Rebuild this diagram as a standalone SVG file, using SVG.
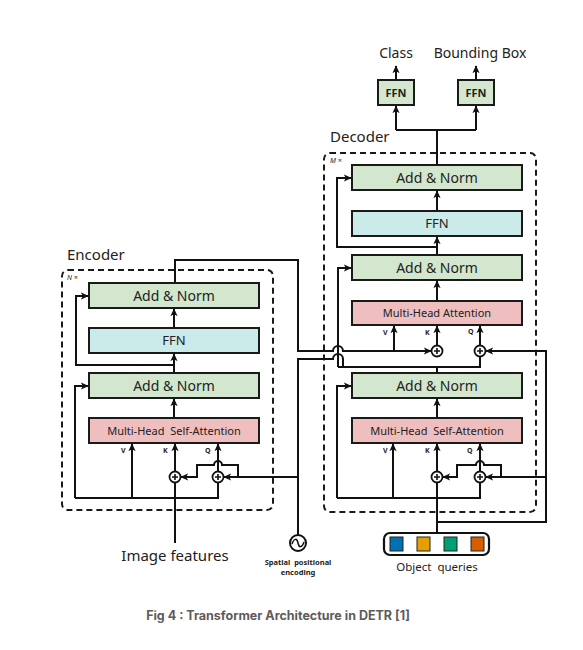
<svg xmlns="http://www.w3.org/2000/svg" width="583" height="650" viewBox="0 0 583 650">
<defs>
<marker id="ah" viewBox="0 0 10 10" refX="9" refY="5" markerWidth="8" markerHeight="8" orient="auto" markerUnits="userSpaceOnUse">
<path d="M0,0.5 L10,5 L0,9.5 L2.5,5 z" fill="#111"/>
</marker>
<style>
.bg{fill:#fff}
.box{stroke:#1a1a1a;stroke-width:2}
.an{fill:#d2e7cd}
.ffn{fill:#cbeaea}
.att{fill:#efbfbf}
.dash{fill:none;stroke:#1a1a1a;stroke-width:2;stroke-dasharray:6 4}
.ln{fill:none;stroke:#111;stroke-width:2}
.ar{marker-end:url(#ah)}
.plus{fill:#fff;stroke:#111;stroke-width:1.8}
.pl{stroke:#111;stroke-width:1.6}
text{font-family:"Noto Sans","Open Sans",sans-serif;fill:#222}
.t14{font-size:14px}
.t13{font-size:13px}
.t11{font-size:11px}
.lab{font-size:15px}
.qkv{font-size:7px;font-weight:bold}
.mult{font-size:7px;font-style:italic}
.small{font-size:7.5px;font-weight:bold}
.cap{font-family:Inter,"Liberation Sans",sans-serif;font-size:12.5px;font-weight:700;fill:#5c5c5c}
</style>
</defs>
<rect class="bg" width="583" height="650"/>

<!-- containers -->
<g id="encoder-container">
<rect class="dash" x="62" y="270" width="211" height="240" rx="6"/>
<text class="lab" x="67" y="260">Encoder</text>
<text class="mult" x="67" y="280">N ×</text>
</g>
<g id="decoder-container">
<rect class="dash" x="324" y="153" width="212" height="359" rx="6"/>
<text class="lab" x="330" y="142">Decoder</text>
<text class="mult" x="330" y="163">M ×</text>
</g>

<!-- connectors -->
<g id="connectors">
<!-- encoder -->
<path class="ln" d="M175,543 V483"/>
<path class="ln" d="M75,498 H218 V483"/>
<path class="ln ar" d="M132,498 V444"/>
<path class="ln ar" d="M175,471.5 V444"/>
<path class="ln ar" d="M218,471.5 V444"/>
<path class="ln ar" d="M75,498 V386 H88"/>
<path class="ln ar" d="M174,418 V399"/>
<path class="ln ar" d="M174,373 V354"/>
<path class="ln ar" d="M174,365 H76 V296 H88"/>
<path class="ln ar" d="M174,328 V309"/>
<path class="ln ar" d="M298,477 H224"/>
<path class="ln ar" d="M238,477 V465 H222 A4,4 0 0 0 214,465 H197 V477 H181"/>
<!-- encoder to decoder -->
<path class="ln ar" d="M175,283 V260 H298 V351 H333 A5,5 0 0 1 343,351 H431"/>
<path class="ln" d="M298,535 V359 H333 A5,5 0 0 1 343,359 V367"/>
<!-- decoder self-attention -->
<path class="ln" d="M437,533 V483"/>
<path class="ln" d="M337,498 H480 V483"/>
<path class="ln ar" d="M393,498 V444"/>
<path class="ln ar" d="M437,471.5 V444"/>
<path class="ln ar" d="M480,471.5 V444"/>
<path class="ln ar" d="M337,498 V386 H351"/>
<path class="ln ar" d="M437,418 V399"/>
<path class="ln ar" d="M437,522 H546 V351 H486"/>
<path class="ln ar" d="M546,477 H486"/>
<path class="ln ar" d="M501,477 V465 H484 A4,4 0 0 0 476,465 H457 V477 H443"/>
<!-- decoder cross-attention -->
<path class="ln" d="M437,373 V367"/>
<path class="ln" d="M338,367 H480 V357"/>
<path class="ln ar" d="M338,367 V268 H351"/>
<path class="ln ar" d="M394,351 V326"/>
<path class="ln ar" d="M437,345.5 V326"/>
<path class="ln ar" d="M480,345.5 V326"/>
<path class="ln ar" d="M437,301 V281"/>
<path class="ln ar" d="M437,255 V237"/>
<path class="ln ar" d="M437,247 H337 V178 H351"/>
<path class="ln ar" d="M437,211 V191"/>
<!-- outputs -->
<path class="ln" d="M437,165 V130"/>
<path class="ln ar" d="M396,130 H476 M396,130 V106"/>
<path class="ln ar" d="M476,130 V106"/>
<path class="ln ar" d="M396,80 V66"/>
<path class="ln ar" d="M476,80 V66"/>
</g>

<!-- plus nodes -->
<g id="enc-plus-k"><circle class="plus" cx="175" cy="477" r="5.5"/><path class="pl" d="M172,477 H178 M175,474 V480"/></g>
<g id="enc-plus-q"><circle class="plus" cx="218" cy="477" r="5.5"/><path class="pl" d="M215,477 H221 M218,474 V480"/></g>
<g id="dec-plus-k"><circle class="plus" cx="437" cy="477" r="5.5"/><path class="pl" d="M434,477 H440 M437,474 V480"/></g>
<g id="dec-plus-q"><circle class="plus" cx="480" cy="477" r="5.5"/><path class="pl" d="M477,477 H483 M480,474 V480"/></g>
<g id="cross-plus-k"><circle class="plus" cx="437" cy="351" r="5.5"/><path class="pl" d="M434,351 H440 M437,348 V354"/></g>
<g id="cross-plus-q"><circle class="plus" cx="480" cy="351" r="5.5"/><path class="pl" d="M477,351 H483 M480,348 V354"/></g>

<!-- encoder nodes -->
<g id="enc-addnorm-2"><rect class="box an" x="89" y="283" width="170" height="25"/><text class="t14" x="174" y="300.5" text-anchor="middle">Add &amp; Norm</text></g>
<g id="enc-ffn"><rect class="box ffn" x="89" y="328" width="170" height="25"/><text class="t13" x="174" y="345" text-anchor="middle">FFN</text></g>
<g id="enc-addnorm-1"><rect class="box an" x="89" y="373" width="170" height="25"/><text class="t14" x="174" y="390.5" text-anchor="middle">Add &amp; Norm</text></g>
<g id="enc-mhsa"><rect class="box att" x="89" y="418" width="170" height="25"/><text class="t11" x="174" y="434.5" text-anchor="middle" xml:space="preserve">Multi-Head  Self-Attention</text>
<text class="qkv" x="121" y="453">V</text><text class="qkv" x="163" y="453">K</text><text class="qkv" x="205" y="453">Q</text></g>

<!-- decoder nodes -->
<g id="dec-addnorm-3"><rect class="box an" x="352" y="165" width="170" height="25"/><text class="t14" x="437" y="182.5" text-anchor="middle">Add &amp; Norm</text></g>
<g id="dec-ffn"><rect class="box ffn" x="352" y="211" width="170" height="25"/><text class="t13" x="437" y="228" text-anchor="middle">FFN</text></g>
<g id="dec-addnorm-2"><rect class="box an" x="352" y="255" width="170" height="25"/><text class="t14" x="437" y="272.5" text-anchor="middle">Add &amp; Norm</text></g>
<g id="dec-mha"><rect class="box att" x="352" y="301" width="170" height="24"/><text class="t11" x="437" y="317" text-anchor="middle">Multi-Head Attention</text>
<text class="qkv" x="383" y="335">V</text><text class="qkv" x="425" y="335">K</text><text class="qkv" x="468" y="334">Q</text></g>
<g id="dec-addnorm-1"><rect class="box an" x="352" y="373" width="170" height="25"/><text class="t14" x="437" y="390.5" text-anchor="middle">Add &amp; Norm</text></g>
<g id="dec-mhsa"><rect class="box att" x="352" y="418" width="170" height="25"/><text class="t11" x="437" y="434.5" text-anchor="middle" xml:space="preserve">Multi-Head  Self-Attention</text>
<text class="qkv" x="383" y="453">V</text><text class="qkv" x="425" y="453">K</text><text class="qkv" x="467" y="453">Q</text></g>

<!-- output heads -->
<g id="ffn-class"><rect class="box an" x="378" y="80" width="36" height="25"/><text class="t11" x="396" y="96.5" text-anchor="middle" font-weight="bold">FFN</text></g>
<g id="ffn-bbox"><rect class="box an" x="458" y="80" width="36" height="25"/><text class="t11" x="476" y="96.5" text-anchor="middle" font-weight="bold">FFN</text></g>
<g id="out-class"><text class="t14" x="396" y="58" text-anchor="middle">Class</text></g>
<g id="out-bbox"><text class="t14" x="480" y="58" text-anchor="middle">Bounding Box</text></g>

<!-- inputs -->
<g id="image-features"><text class="lab" x="175" y="561" text-anchor="middle">Image features</text></g>
<g id="pos-enc">
<circle cx="298" cy="543" r="8" fill="#fff" stroke="#111" stroke-width="2"/>
<path d="M292,544 C294,538 297,538 298,543 C299,548 302,548 304,542" fill="none" stroke="#111" stroke-width="1.5"/>
<text class="small" x="298" y="565" text-anchor="middle" xml:space="preserve">Spatial  positional</text>
<text class="small" x="298" y="575" text-anchor="middle">encoding</text>
</g>
<g id="object-queries">
<rect x="384" y="533" width="105" height="22" rx="6" fill="#fff" stroke="#111" stroke-width="2.2"/>
<rect x="390" y="537" width="13" height="14" fill="#0072b2" stroke="#222" stroke-width="1"/>
<rect x="417" y="537" width="13" height="14" fill="#e69f00" stroke="#222" stroke-width="1"/>
<rect x="444" y="537" width="13" height="14" fill="#009e73" stroke="#222" stroke-width="1"/>
<rect x="471" y="537" width="13" height="14" fill="#d55e00" stroke="#222" stroke-width="1"/>
<text x="437" y="571" text-anchor="middle" font-size="11.5px" xml:space="preserve">Object  queries</text>
</g>

<text class="cap" x="278" y="620" text-anchor="middle">Fig 4 : Transformer Architecture in DETR [1]</text>
</svg>
